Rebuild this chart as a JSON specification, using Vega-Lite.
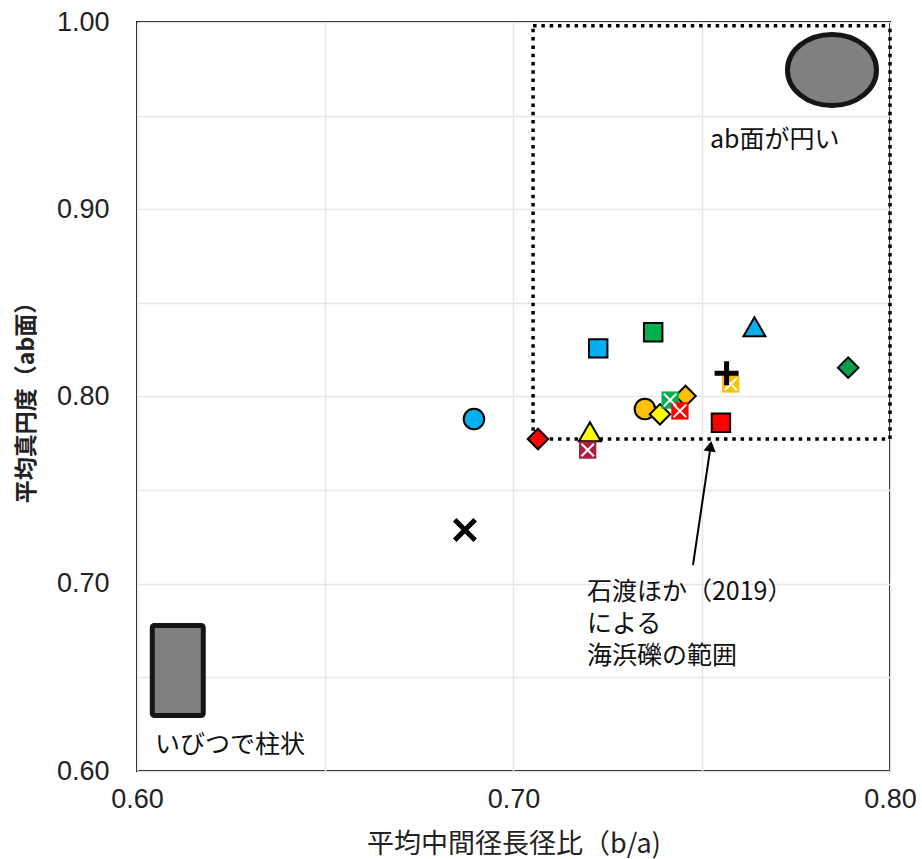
{
  "$schema": "https://vega.github.io/schema/vega-lite/v6.json",
  "width": 753,
  "height": 749,
  "autosize": {"type": "none"},
  "padding": {"left": 137, "top": 22, "right": 32, "bottom": 88},
  "background": "white",
  "config": {
    "view": {"stroke": "black", "strokeWidth": 2},
    "font": "Liberation Sans"
  },
  "datasets": {
    "pts": [
      {"series": "s1", "x": 0.6895, "y": 0.788},
      {"series": "s2", "x": 0.6871, "y": 0.7287},
      {"series": "s3", "x": 0.7065, "y": 0.7773},
      {"series": "s4", "x": 0.7203, "y": 0.7812},
      {"series": "s5", "x": 0.7197, "y": 0.7714},
      {"series": "s6", "x": 0.7225, "y": 0.8257},
      {"series": "s7", "x": 0.7371, "y": 0.8343},
      {"series": "s8", "x": 0.7349, "y": 0.7933},
      {"series": "s9", "x": 0.7389, "y": 0.7905},
      {"series": "s10", "x": 0.7416, "y": 0.7981},
      {"series": "s11", "x": 0.7457, "y": 0.8003},
      {"series": "s12", "x": 0.7442, "y": 0.7923},
      {"series": "s13", "x": 0.7551, "y": 0.786},
      {"series": "s14", "x": 0.7566, "y": 0.8124},
      {"series": "s15", "x": 0.7577, "y": 0.8067},
      {"series": "s16", "x": 0.764, "y": 0.8373},
      {"series": "s17", "x": 0.7889, "y": 0.8154}
    ],
    "box": [
      {"x": 0.7052, "x2": 0.7052, "y": 0.7773, "y2": 0.998},
      {"x": 0.7052, "x2": 0.8, "y": 0.7773, "y2": 0.7773},
      {"x": 0.7052, "x2": 0.8, "y": 0.998, "y2": 0.998},
      {"x": 0.8, "x2": 0.8, "y": 0.7773, "y2": 0.998}
    ],
    "arrow": [
      {"x": 0.74767, "y": 0.71, "x2": 0.75232, "y2": 0.773}
    ],
    "arrowhead": [
      {"x": 0.75232, "y": 0.7735}
    ],
    "rectshape": [
      {"x": 0.60406, "x2": 0.6176, "y": 0.6777, "y2": 0.62964}
    ],
    "ellipse": [
      {"x": 0.78459, "y": 0.97437}
    ],
    "labels": [
      {"x": 0.75219, "y": 0.93698, "text": "ab面が円い"},
      {"x": 0.60478, "y": 0.61389, "text": "いびつで柱状"},
      {"x": 0.71952, "y": 0.69559, "text": "石渡ほか（2019）\nによる\n海浜礫の範囲"}
    ]
  },
  "encoding": {
    "x": {
      "field": "x", "type": "quantitative",
      "scale": {"domain": [0.6, 0.8], "nice": false, "zero": false},
      "axis": {
        "values": [0.6, 0.65, 0.7, 0.75, 0.8],
        "labelExpr": "round(datum.value*100) % 10 == 0 ? format(datum.value, '.2f') : ''",
        "ticks": false, "domain": false, "grid": true, "gridColor": "#e6e6e6", "gridWidth": 1.5,
        "labelFontSize": 27, "labelColor": "#222", "labelPadding": 15, "labelFlush": false, "labelOverlap": false,
        "title": "平均中間径長径比（b/a)", "titleFont": "Noto Sans CJK JP", "titleFontSize": 27, "titleFontWeight": "normal", "titleColor": "#222", "titlePadding": 19
      }
    },
    "y": {
      "field": "y", "type": "quantitative",
      "scale": {"domain": [0.6, 1.0], "nice": false, "zero": false},
      "axis": {
        "values": [0.6, 0.65, 0.7, 0.75, 0.8, 0.85, 0.9, 0.95, 1.0],
        "labelExpr": "round(datum.value*100) % 10 == 0 ? format(datum.value, '.2f') : ''",
        "ticks": false, "domain": false, "grid": true, "gridColor": "#e6e6e6", "gridWidth": 1.5,
        "labelFontSize": 27, "labelColor": "#222", "labelPadding": 28, "labelFlush": false, "labelOverlap": false,
        "title": "平均真円度（ab面）", "titleFont": "Noto Sans CJK JP", "titleFontSize": 23, "titleFontWeight": "bold", "titleColor": "#222", "titlePadding": 18
      }
    }
  },
  "layer": [
    {
      "data": {"name": "box"},
      "mark": {"type": "rule", "color": "black", "strokeWidth": 3.5, "strokeDash": [3.5, 4.8]},
      "encoding": {"x2": {"field": "x2"}, "y2": {"field": "y2"}}
    },
    {
      "data": {"name": "arrow"},
      "mark": {"type": "rule", "color": "black", "strokeWidth": 2},
      "encoding": {"x2": {"field": "x2"}, "y2": {"field": "y2"}}
    },
    {
      "data": {"name": "arrowhead"},
      "mark": {"type": "point", "shape": "triangle-up", "filled": true, "color": "black", "size": 150, "angle": 9, "opacity": 1}
    },
    {
      "data": {"name": "rectshape"},
      "mark": {"type": "rect", "fill": "#808080", "stroke": "#151515", "strokeWidth": 5, "cornerRadius": 2},
      "encoding": {"x2": {"field": "x2"}, "y2": {"field": "y2"}}
    },
    {
      "data": {"name": "ellipse"},
      "mark": {"type": "point", "shape": "M-1,0A1,0.8,0,1,1,1,0A1,0.8,0,1,1,-1,0Z", "size": 7921, "filled": true, "fill": "#808080", "stroke": "#151515", "strokeWidth": 5, "opacity": 1}
    },
    {
      "data": {"name": "labels"},
      "mark": {"type": "text", "align": "left", "baseline": "middle", "font": "Noto Sans CJK JP", "fontSize": 25, "color": "#111", "lineBreak": "\n", "lineHeight": 32},
      "encoding": {"text": {"field": "text"}}
    },
    {
      "data": {"name": "pts"},
      "transform": [{"filter": {"field": "series", "oneOf": ["s1", "s8"]}}],
      "mark": {"type": "point", "shape": "circle", "filled": true, "size": 420, "stroke": "black", "strokeWidth": 2, "opacity": 1},
      "encoding": {"fill": {"field": "series", "type": "nominal", "legend": null,
        "scale": {"domain": ["s1","s2","s3","s4","s5","s6","s7","s8","s9","s10","s11","s12","s13","s14","s15","s16","s17"],
                  "range": ["#00B0F0","#000000","#FF0000","#FFFF00","#A9203E","#00B0F0","#00B050","#FFC000","#FFFF00","#00B050","#FFC000","#FF0000","#FF0000","#000000","#FFC000","#00B0F0","#00A050"]}}}
    },
    {
      "data": {"name": "pts"},
      "transform": [{"filter": {"field": "series", "oneOf": ["s6", "s7", "s13"]}}],
      "mark": {"type": "point", "shape": "square", "filled": true, "size": 340, "stroke": "black", "strokeWidth": 2, "opacity": 1},
      "encoding": {"fill": {"field": "series", "type": "nominal", "legend": null}}
    },
    {
      "data": {"name": "pts"},
      "transform": [{"filter": {"field": "series", "oneOf": ["s3", "s9", "s11", "s17"]}}],
      "mark": {"type": "point", "shape": "diamond", "filled": true, "size": 420, "stroke": "black", "strokeWidth": 2, "opacity": 1},
      "encoding": {"fill": {"field": "series", "type": "nominal", "legend": null}}
    },
    {
      "data": {"name": "pts"},
      "transform": [{"filter": {"field": "series", "oneOf": ["s4", "s16"]}}],
      "mark": {"type": "point", "shape": "triangle-up", "filled": true, "size": 480, "stroke": "black", "strokeWidth": 2, "opacity": 1},
      "encoding": {"fill": {"field": "series", "type": "nominal", "legend": null}}
    },
    {
      "data": {"name": "pts"},
      "transform": [{"filter": {"field": "series", "oneOf": ["s5", "s10", "s12", "s15"]}}],
      "mark": {"type": "point", "shape": "square", "filled": true, "size": 300, "strokeWidth": 0, "opacity": 1},
      "encoding": {"fill": {"field": "series", "type": "nominal", "legend": null}}
    },
    {
      "data": {"name": "pts"},
      "transform": [{"filter": {"field": "series", "oneOf": ["s5", "s10", "s12", "s15"]}}],
      "mark": {"type": "point", "shape": "M-0.72,-0.72L0.72,0.72M-0.72,0.72L0.72,-0.72", "filled": false, "size": 300, "stroke": "white", "strokeWidth": 2, "opacity": 1}
    },
    {
      "data": {"name": "pts"},
      "transform": [{"filter": {"field": "series", "oneOf": ["s2"]}}],
      "mark": {"type": "point", "shape": "M-0.85,-0.85L0.85,0.85M-0.85,0.85L0.85,-0.85", "filled": false, "size": 576, "stroke": "black", "strokeWidth": 5, "opacity": 1}
    },
    {
      "data": {"name": "pts"},
      "transform": [{"filter": {"field": "series", "oneOf": ["s14"]}}],
      "mark": {"type": "point", "shape": "M-1,0L1,0M0,-1L0,1", "filled": false, "size": 576, "stroke": "black", "strokeWidth": 5, "opacity": 1}
    }
  ]
}
